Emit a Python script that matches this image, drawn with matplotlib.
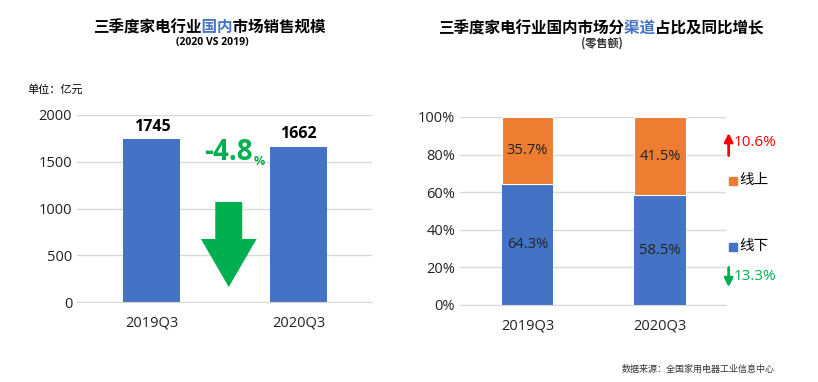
import matplotlib
matplotlib.use("Agg")
import matplotlib.pyplot as plt
from matplotlib.patches import Polygon
from matplotlib.transforms import Bbox

plt.rcParams['font.family'] = ['Open Sans', 'Noto Sans CJK SC', 'DejaVu Sans']

# data
quarters = ['2019Q3', '2020Q3']
sales = [1745, 1662]
sales_change = '-4.8'
offline_share = [64.3, 58.5]
online_share = [35.7, 41.5]
online_growth = '10.6%'
offline_growth = '13.3%'

BLUE = '#4472C4'
ORANGE = '#ED7D31'
GREEN = '#00B050'
RED = '#FF0000'
GRID = '#D9D9D9'

W, H = 818, 382
fig = plt.figure(figsize=(W / 100, H / 100), dpi=100)


def px(x, y):
    return x / W, 1 - y / H


def style_axes(ax):
    for s in ['top', 'right', 'left']:
        ax.spines[s].set_visible(False)
    ax.spines['bottom'].set_color(GRID)
    ax.yaxis.grid(True, color=GRID, lw=1)
    ax.set_axisbelow(True)
    ax.tick_params(length=0, labelsize=10.5, colors='#222222')
    ax.tick_params(axis='x', pad=10)


def colored_title(x, y, text, start, stop, size):
    # same string drawn three times, each clipped to its part, so glyphs line up
    r = fig.canvas.get_renderer()
    kw = dict(fontsize=size, fontweight='bold', ha='left', va='baseline',
              family='Noto Sans CJK SC')
    probe = fig.text(x / W, 1 - y / H, text, **kw)
    ext = probe.get_window_extent(r)
    probe.remove()
    cw = ext.width / len(text)
    cuts = [0, ext.x0 + cw * start, ext.x0 + cw * stop, W]
    for k, col in enumerate(['black', BLUE, 'black']):
        t = fig.text(x / W, 1 - y / H, text, color=col, **kw)
        t.set_clip_box(Bbox([[cuts[k], 0], [cuts[k + 1], H]]))
        t.set_clip_on(True)


# left chart
ax1 = fig.add_axes([77 / W, 1 - 302 / H, (372 - 77) / W, (302 - 115) / H])
xs = range(len(quarters))
ax1.bar(xs, sales, width=0.39, color=BLUE)
ax1.set_ylim(0, 2000)
ax1.set_xlim(-0.51, 1.5)
ax1.set_yticks([0, 500, 1000, 1500, 2000])
ax1.set_xticks(list(xs))
ax1.set_xticklabels(quarters)
style_axes(ax1)
for i, v in enumerate(sales):
    ax1.text(i, v + 45, str(v), ha='center', va='bottom', fontsize=11.5,
             fontweight='bold')

# change label and big arrow
ax1.text(0.69, 1594, sales_change, color=GREEN, fontsize=20, fontweight='bold',
         ha='right', va='center')
ax1.text(0.695, 1460, '%', color=GREEN, fontsize=9, fontweight='bold',
         ha='left', va='baseline')
ac = 0.524
arrow = Polygon([(ac - 0.092, 1070), (ac + 0.092, 1070), (ac + 0.092, 674),
                 (ac + 0.19, 674), (ac, 160), (ac - 0.19, 674), (ac - 0.092, 674)],
                closed=True, color=GREEN, lw=0)
ax1.add_patch(arrow)

# right chart
ax2 = fig.add_axes([460 / W, 1 - 305 / H, (726 - 460) / W, (305 - 117) / H])
ax2.bar(xs, offline_share, width=0.39, color=BLUE)
ax2.bar(xs, online_share, width=0.39, bottom=offline_share, color=ORANGE,
        edgecolor='white', lw=0.8)
ax2.set_ylim(0, 100)
ax2.set_xlim(-0.51, 1.5)
ax2.set_yticks(range(0, 101, 20))
ax2.set_yticklabels([f'{v}%' for v in range(0, 101, 20)])
ax2.set_xticks(list(xs))
ax2.set_xticklabels(quarters)
style_axes(ax2)
for i in xs:
    ax2.text(i, offline_share[i] / 2, f'{offline_share[i]}%', ha='center',
             va='center', fontsize=10.5, color='#222222')
    ax2.text(i, offline_share[i] + online_share[i] / 2, f'{online_share[i]}%',
             ha='center', va='center', fontsize=10.5, color='#222222')

# legend and growth annotations
ax2.plot([1.025], [0.66], marker='s', ms=5.5, color=ORANGE, transform=ax2.transAxes,
         clip_on=False)
ax2.text(1.05, 0.66, '线上', transform=ax2.transAxes, va='center', fontsize=10.5)
ax2.plot([1.025], [0.31], marker='s', ms=5.5, color=BLUE, transform=ax2.transAxes,
         clip_on=False)
ax2.text(1.05, 0.31, '线下', transform=ax2.transAxes, va='center', fontsize=10.5)

ax2.annotate('', xy=(1.01, 0.93), xytext=(1.01, 0.78), xycoords='axes fraction',
             arrowprops=dict(arrowstyle='-|>,head_width=0.25,head_length=0.5',
                             color=RED, lw=2))
ax2.text(1.03, 0.862, online_growth, transform=ax2.transAxes, va='center',
         color=RED, fontsize=11)
ax2.annotate('', xy=(1.01, 0.08), xytext=(1.01, 0.215), xycoords='axes fraction',
             arrowprops=dict(arrowstyle='-|>,head_width=0.25,head_length=0.5',
                             color=GREEN, lw=2))
ax2.text(1.03, 0.149, offline_growth, transform=ax2.transAxes, va='center',
         color=GREEN, fontsize=11)

# titles
colored_title(93, 33, '三季度家电行业国内市场销售规模', 7, 9, 11.2)
fig.text(*px(212, 43), '(2020 VS 2019)', ha='center', va='center', fontsize=7.5,
         fontweight='bold')
colored_title(438, 33, '三季度家电行业国内市场分渠道占比及同比增长', 12, 14, 11.2)
fig.text(*px(602, 43), '(零售额)', ha='center', va='center', fontsize=8,
         fontweight='bold', color='#333333', family='Noto Sans CJK SC')

fig.text(*px(27, 89), '单位：亿元', ha='left', va='center', fontsize=8,
         family='Noto Sans CJK SC')
fig.text(*px(775, 369), '数据来源：全国家用电器工业信息中心', ha='right', va='center',
         fontsize=6.5, color='#333333', family='Noto Sans CJK SC')

fig.savefig('out.png', dpi=100)
